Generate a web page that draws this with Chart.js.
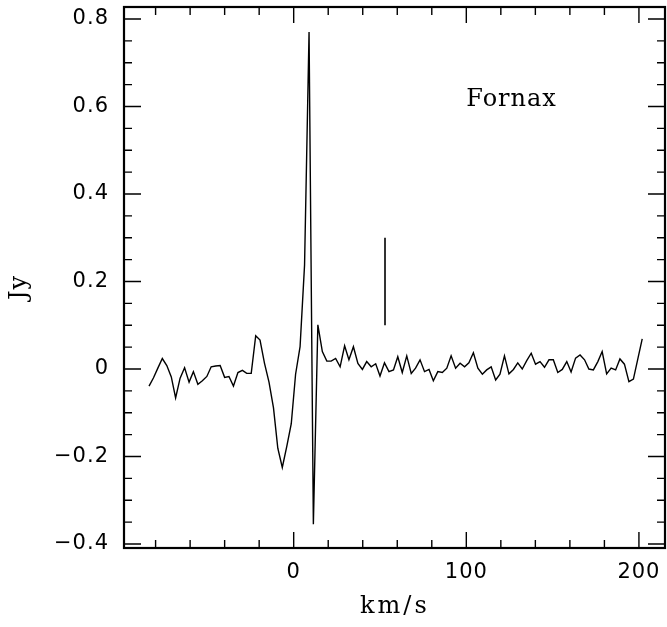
<!DOCTYPE html>
<html>
<head>
<meta charset="utf-8">
<script src="https://cdn.jsdelivr.net/npm/chart.js@4"></script>
<style>
  html, body { margin: 0; padding: 0; background: #fff; }
  #wrap { width: 667px; height: 627px; }
</style>
</head>
<body>
<div id="wrap"><canvas id="spec" width="667" height="627"></canvas></div>
<script>
// velocity channels (km/s)
const velocity = [
  -83.8, -81.2, -78.7, -76.1, -73.5, -70.9, -68.4, -65.8, -63.2, -60.6,
  -58.1, -55.5, -52.9, -50.3, -47.8, -45.2, -42.6, -40.0, -37.5, -34.9,
  -32.3, -29.7, -27.2, -24.6, -22.0, -19.5, -16.9, -14.3, -11.7, -9.2,
  -6.6, -4.0, -1.4, 1.1, 3.7, 6.3, 8.9, 11.4, 14.0, 16.6,
  19.2, 21.7, 24.3, 26.9, 29.5, 32.0, 34.6, 37.2, 39.8, 42.3,
  44.9, 47.5, 50.0, 52.6, 55.2, 57.8, 60.3, 62.9, 65.5, 68.1,
  70.6, 73.2, 75.8, 78.4, 80.9, 83.5, 86.1, 88.7, 91.2, 93.8,
  96.4, 99.0, 101.5, 104.1, 106.7, 109.3, 111.8, 114.4, 117.0, 119.5,
  122.1, 124.7, 127.3, 129.8, 132.4, 135.0, 137.6, 140.1, 142.7, 145.3,
  147.9, 150.4, 153.0, 155.6, 158.2, 160.7, 163.3, 165.9, 168.5, 171.0,
  173.6, 176.2, 178.7, 181.3, 183.9, 186.5, 189.0, 191.6, 194.2, 196.8,
  199.3, 201.9
];

// flux density (Jy)
const flux = [
  -0.039, -0.020, 0.002, 0.024, 0.008, -0.018, -0.066, -0.021, 0.003, -0.030,
  -0.006, -0.035, -0.027, -0.017, 0.005, 0.007, 0.008, -0.019, -0.017, -0.039,
  -0.008, -0.003, -0.010, -0.010, 0.076, 0.066, 0.013, -0.030, -0.089, -0.181,
  -0.225, -0.177, -0.125, -0.012, 0.051, 0.238, 0.770, -0.355, 0.101, 0.040,
  0.018, 0.018, 0.024, 0.005, 0.053, 0.021, 0.051, 0.013, -0.001, 0.017,
  0.005, 0.012, -0.016, 0.014, -0.006, -0.002, 0.028, -0.008, 0.030, -0.010,
  0.002, 0.021, -0.006, -0.001, -0.027, -0.006, -0.008, 0.002, 0.030, 0.002,
  0.013, 0.005, 0.014, 0.037, 0.002, -0.012, -0.002, 0.005, -0.025, -0.012,
  0.030, -0.011, -0.001, 0.014, 0.000, 0.019, 0.036, 0.011, 0.017, 0.004,
  0.021, 0.021, -0.008, -0.001, 0.017, -0.007, 0.025, 0.032, 0.021, 0.000,
  -0.002, 0.017, 0.040, -0.011, 0.002, -0.002, 0.023, 0.011, -0.029, -0.023,
  0.022, 0.069
];

// vertical marker bar
const markerV = [52.9, 52.9];
const markerF = [0.1, 0.3];

const xTicks = [0, 100, 200];
const yTicks = [-0.4, -0.2, 0, 0.2, 0.4, 0.6, 0.8];
const label = "Fornax";
const label_x = 100, label_y = 0.6;

const fmtY = v => v === 0 ? "0" : (v < 0 ? "\u2212" : "") + Math.abs(v).toFixed(1);

function noPad(s) {
  s.paddingTop = 0; s.paddingBottom = 0; s.paddingLeft = 0; s.paddingRight = 0;
}

// frame, inward ticks and text labels
const framePlugin = {
  id: 'frame',
  beforeDraw(chart) {
    chart.ctx.letterSpacing = '1px';
  },
  afterDatasetsDraw(chart) {
    const { ctx, chartArea: a, scales: { x, y } } = chart;
    ctx.save();
    ctx.strokeStyle = '#000';

    ctx.lineWidth = 1.4;
    ctx.beginPath();
    for (let v = -80; v <= 215; v += 20) {
      const px = x.getPixelForValue(v);
      const len = (v % 100 === 0) ? 16 : 8;
      ctx.moveTo(px, a.bottom); ctx.lineTo(px, a.bottom - len);
      ctx.moveTo(px, a.top); ctx.lineTo(px, a.top + len);
    }
    for (let k = -8; k <= 16; k++) {
      const v = k * 0.05;
      const py = y.getPixelForValue(v);
      const len = (k % 4 === 0) ? 17 : 8;
      ctx.moveTo(a.left, py); ctx.lineTo(a.left + len, py);
      ctx.moveTo(a.right, py); ctx.lineTo(a.right - len, py);
    }
    ctx.stroke();

    ctx.lineWidth = 2.2;
    ctx.strokeRect(a.left, a.top, a.right - a.left, a.bottom - a.top);

    ctx.fillStyle = '#000';
    ctx.font = '24px "DejaVu Serif"';
    ctx.textAlign = 'left';
    ctx.textBaseline = 'alphabetic';
    ctx.letterSpacing = '1px';
    ctx.fillText(label, x.getPixelForValue(label_x), y.getPixelForValue(label_y));

    ctx.letterSpacing = '3px';
    ctx.fillText('km/s', 360, 613);

    ctx.letterSpacing = '1px';
    ctx.translate(26, 300);
    ctx.rotate(-Math.PI / 2);
    ctx.fillText('Jy', 0, 0);
    ctx.restore();
  }
};

new Chart(document.getElementById('spec'), {
  type: 'line',
  data: {
    datasets: [
      {
        data: velocity.map((v, i) => ({ x: v, y: flux[i] })),
        borderColor: '#000', borderWidth: 1.4, pointRadius: 0, tension: 0, fill: false
      },
      {
        data: markerV.map((v, i) => ({ x: v, y: markerF[i] })),
        borderColor: '#000', borderWidth: 1.6, pointRadius: 0, fill: false
      }
    ]
  },
  options: {
    responsive: false,
    animation: false,
    layout: { padding: { top: 7, right: 2, left: 0, bottom: 0 } },
    plugins: { legend: { display: false }, tooltip: { enabled: false } },
    scales: {
      x: {
        type: 'linear', min: -98.3, max: 215.1,
        grid: { display: false, drawTicks: false },
        border: { display: false },
        afterBuildTicks: s => { s.ticks = xTicks.map(v => ({ value: v })); },
        afterFit: s => { s.height = 79; noPad(s); },
        ticks: { padding: 12, color: '#000', font: { family: 'DejaVu Sans', size: 21 } }
      },
      y: {
        type: 'linear', min: -0.4091, max: 0.8274,
        grid: { display: false, drawTicks: false },
        border: { display: false },
        afterBuildTicks: s => { s.ticks = yTicks.map(v => ({ value: v })); },
        afterFit: s => { s.width = 124; noPad(s); },
        ticks: { padding: 15, color: '#000', font: { family: 'DejaVu Sans', size: 21 }, callback: v => fmtY(v) }
      }
    }
  },
  plugins: [framePlugin]
});
</script>
</body>
</html>
